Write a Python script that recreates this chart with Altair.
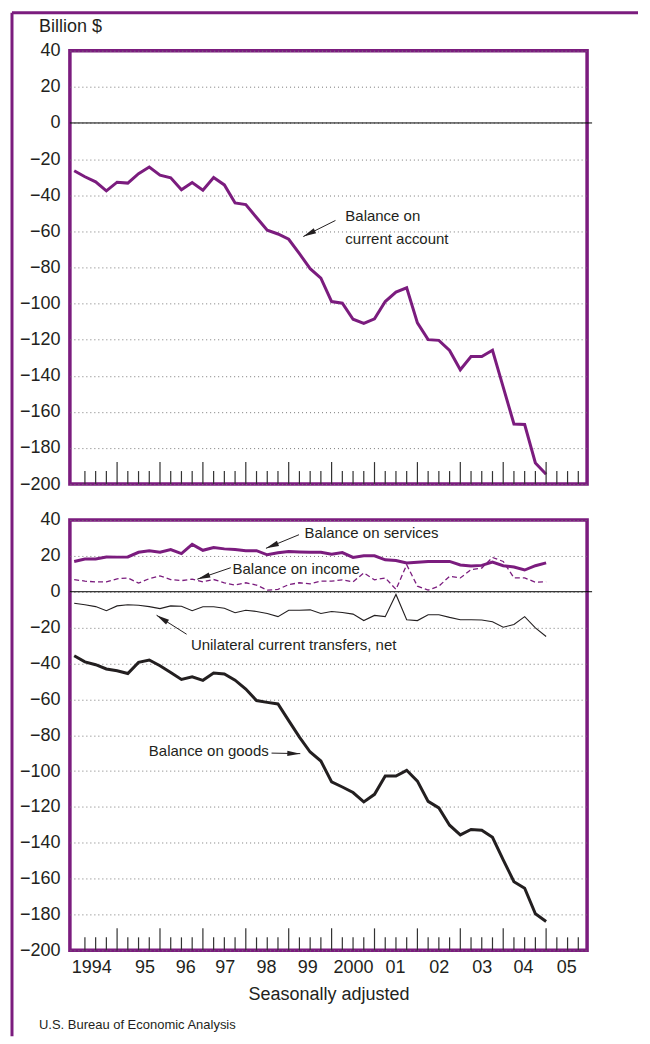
import json
import math
import altair as alt
import pandas as pd

# ---------------- data ----------------
years = list(range(1994, 2006))
year_labels = ["1994", "95", "96", "97", "98", "99", "2000", "01", "02", "03", "04", "05"]
# where each year label sits along the time axis
year_label_pos = [1994.40, 1995.64, 1996.59, 1997.51, 1998.47, 1999.43,
                  2000.50, 2001.48, 2002.50, 2003.50, 2004.46, 2005.47]
quarter_index = list(range(45))  # 1994:I ... 2005:I

current_account = [-26.5, -29.8, -32.6, -37.6, -32.8, -33.3, -28.1, -24.4, -28.9, -30.4,
                   -37.0, -33.0, -37.2, -30.2, -34.3, -44.3, -45.2, -52.4, -59.4, -61.5,
                   -64.4, -72.4, -80.7, -85.9, -98.9, -99.8, -108.7, -111.0, -108.5, -98.9,
                   -93.7, -91.3, -110.7, -120.0, -120.4, -126.0, -136.7, -129.4, -129.4, -125.9,
                   -146.3, -166.7, -167.0, -188.3, -194.6]

services = [16.9, 18.2, 18.3, 19.4, 19.3, 19.4, 22.0, 22.8, 22.0, 23.5,
            21.3, 26.4, 23.1, 24.6, 23.9, 23.5, 22.8, 22.9, 20.6, 21.7,
            22.4, 22.2, 22.0, 22.0, 20.9, 21.8, 19.1, 20.0, 20.0, 17.8,
            17.4, 16.0, 16.5, 16.9, 16.9, 16.9, 14.9, 14.3, 14.7, 16.5,
            14.5, 13.8, 12.1, 14.5, 16.1]

income = [6.8, 5.9, 5.5, 5.5, 7.2, 7.7, 4.8, 7.3, 8.8, 6.8,
          6.2, 7.0, 5.5, 6.8, 5.0, 3.7, 5.0, 3.7, 0.9, 1.3,
          4.0, 5.0, 4.4, 5.9, 5.9, 6.6, 5.5, 10.5, 6.6, 7.7,
          1.3, 15.0, 3.1, 0.9, 3.1, 8.6, 7.7, 12.3, 13.2, 19.1,
          16.9, 7.7, 7.7, 5.3, 5.5]

transfers = [-6.4, -7.3, -8.3, -10.6, -7.9, -7.3, -7.5, -8.3, -9.4, -7.9,
             -8.1, -10.6, -8.4, -8.4, -9.2, -11.7, -10.3, -11.0, -12.1, -13.9,
             -10.3, -10.3, -10.1, -12.1, -11.0, -11.6, -12.5, -16.1, -13.2, -13.9,
             -1.5, -15.6, -16.1, -12.8, -12.8, -14.3, -15.6, -15.6, -15.8, -16.7,
             -19.8, -18.3, -13.9, -20.2, -25.0]

goods = [-35.7, -39.1, -40.7, -43.1, -44.1, -45.6, -39.4, -38.1, -41.3, -45.0,
         -48.9, -47.4, -49.4, -45.4, -45.9, -49.3, -54.3, -60.7, -61.7, -62.6,
         -71.9, -81.1, -89.4, -94.4, -106.1, -108.9, -112.0, -117.2, -113.0, -102.8,
         -102.8, -99.6, -105.6, -116.9, -120.6, -130.2, -135.6, -132.6, -133.0, -137.0,
         -149.6, -161.7, -165.4, -179.6, -183.9]

y_ticks = list(range(-200, 41, 20))

# ---------------- styling ----------------
PURPLE = "#7b1c7e"
INK = "#231f20"
FONT = "Liberation Sans"
W, H1, H2 = 518, 434, 431
XDOM = [1993.9, 2005.955]
YDOM = [-200, 40]
PX_YEAR = W / (XDOM[1] - XDOM[0])

xs = alt.Scale(domain=XDOM, nice=False, zero=False)
ys = alt.Scale(domain=YDOM, nice=False, zero=False)

t = [1994 + i / 4 for i in quarter_index]


def yaxis():
    return alt.Axis(values=y_ticks, ticks=False, domain=False, grid=True,
                    gridColor="#777777", gridDash=[1, 3], gridWidth=1,
                    labelFont=FONT, labelFontSize=18, labelColor=INK,
                    labelPadding=10, labelOverlap=False, title="")


def xaxis_bottom():
    return alt.Axis(values=year_label_pos,
                    labelExpr=json.dumps(year_labels) + "[floor(datum.value) - 1994]",
                    ticks=False, domain=False, grid=False, labelFlush=False,
                    labelOverlap=False,
                    labelFont=FONT, labelFontSize=18, labelColor=INK, labelPadding=8,
                    title="Seasonally adjusted", titleFont=FONT, titleFontSize=18,
                    titleFontWeight="normal", titleColor=INK, titlePadding=9)


def X(field, top):
    return alt.X(field, scale=xs, axis=None if top else xaxis_bottom())


def Y(field):
    return alt.Y(field, scale=ys, axis=yaxis())


def series_line(values, color, width, top, dash=None):
    df = pd.DataFrame({"t": t, "v": values})
    kw = dict(color=color, strokeWidth=width)
    if dash:
        kw["strokeDash"] = dash
    return alt.Chart(df).mark_line(**kw).encode(x=X("t:Q", top), y=Y("v:Q"))


def zero_rule():
    return alt.Chart(pd.DataFrame({"v": [0]})).mark_rule(color="#000000", strokeWidth=1).encode(
        x=alt.value(0), x2=alt.value(W + 5), y=Y("v:Q"))


tick_k = list(range(1, 48))
small_ticks = pd.DataFrame({"t": [1994 + k / 4 for k in tick_k if k % 4]})
big_ticks = pd.DataFrame({"t": [1994 + k / 4 for k in tick_k if k % 4 == 0]})


def ticks(H, top):
    s = alt.Chart(small_ticks).mark_rule(color="#333333", strokeWidth=1.2).encode(
        x=X("t:Q", top), y=alt.value(H), y2=alt.value(H - 13))
    b = alt.Chart(big_ticks).mark_rule(color="#333333", strokeWidth=1.2).encode(
        x=X("t:Q", top), y=alt.value(H), y2=alt.value(H - 22))
    return s + b


def labels(rows, top):
    df = pd.DataFrame(rows, columns=["t", "v", "label"])
    return alt.Chart(df).mark_text(align="left", baseline="middle", font=FONT,
                                   fontSize=15, color=INK).encode(
        x=X("t:Q", top), y=Y("v:Q"), text="label:N")


def arrows(rows, H, top):
    df = pd.DataFrame(rows, columns=["t0", "v0", "t1", "v1"])
    px_v = H / (YDOM[1] - YDOM[0])
    df["ang"] = [math.degrees(math.atan2((r.t1 - r.t0) * PX_YEAR, (r.v1 - r.v0) * px_v)) % 360
                 for r in df.itertuples()]
    line = alt.Chart(df).mark_rule(color=INK, strokeWidth=1).encode(
        x=X("t0:Q", top), x2="t1:Q", y=Y("v0:Q"), y2="v1:Q")
    head = alt.Chart(df).mark_point(shape="M0,0L0.42,2L-0.42,2Z", filled=True, size=169,
                                    color=INK, opacity=1, strokeWidth=0).encode(
        x=X("t1:Q", top), y=Y("v1:Q"), angle=alt.Angle("ang:Q", scale=None))
    return line + head


one = pd.DataFrame({"k": [0]})

frame = (
    alt.Chart(one).mark_rule(color=PURPLE, strokeWidth=3).encode(
        x=alt.value(-58), x2=alt.value(-58), y=alt.value(-38), y2=alt.value(987))
    + alt.Chart(one).mark_rule(color=PURPLE, strokeWidth=3).encode(
        x=alt.value(-58), x2=alt.value(569), y=alt.value(-38), y2=alt.value(-38))
)

billion = alt.Chart(one).mark_text(align="left", baseline="middle", font=FONT, fontSize=18,
                                   color=INK, text="Billion $").encode(
    x=alt.value(-31), y=alt.value(-24))

top = alt.layer(
    series_line(current_account, PURPLE, 3, True),
    zero_rule(),
    ticks(H1, True),
    labels([(2000.32, -51.8, "Balance on"), (2000.32, -64.5, "current account")], True),
    arrows([(2000.09, -54.0, 1999.34, -62.9)], H1, True),
    frame,
    billion,
).properties(width=W, height=H1)

source = alt.Chart(one).mark_text(align="left", baseline="middle", font=FONT, fontSize=13,
                                  color=INK, text="U.S. Bureau of Economic Analysis").encode(
    x=alt.value(-31), y=alt.value(506))

bottom = alt.layer(
    series_line(goods, INK, 3, False),
    series_line(services, PURPLE, 3, False),
    series_line(income, PURPLE, 1.3, False, dash=[5, 3]),
    series_line(transfers, INK, 1.1, False),
    zero_rule(),
    ticks(H2, False),
    labels([(1999.37, 32.5, "Balance on services"),
            (1997.69, 12.9, "Balance on income"),
            (1996.72, -29.5, "Unilateral current transfers, net"),
            (1995.74, -88.6, "Balance on goods")], False),
    arrows([(1999.24, 31.8, 1998.47, 24.2),
            (1997.65, 13.4, 1996.87, 7.0),
            (1996.62, -23.7, 1995.92, -13.1),
            (1998.60, -90.0, 1999.27, -90.3)], H2, False),
    source,
).properties(width=W, height=H2)

chart = alt.vconcat(top, bottom, spacing=36, bounds="flush").properties(
    padding=0
).configure_view(stroke=PURPLE, strokeWidth=3.5)

chart.save("out.html", embed_options={"renderer": "svg", "actions": False})
